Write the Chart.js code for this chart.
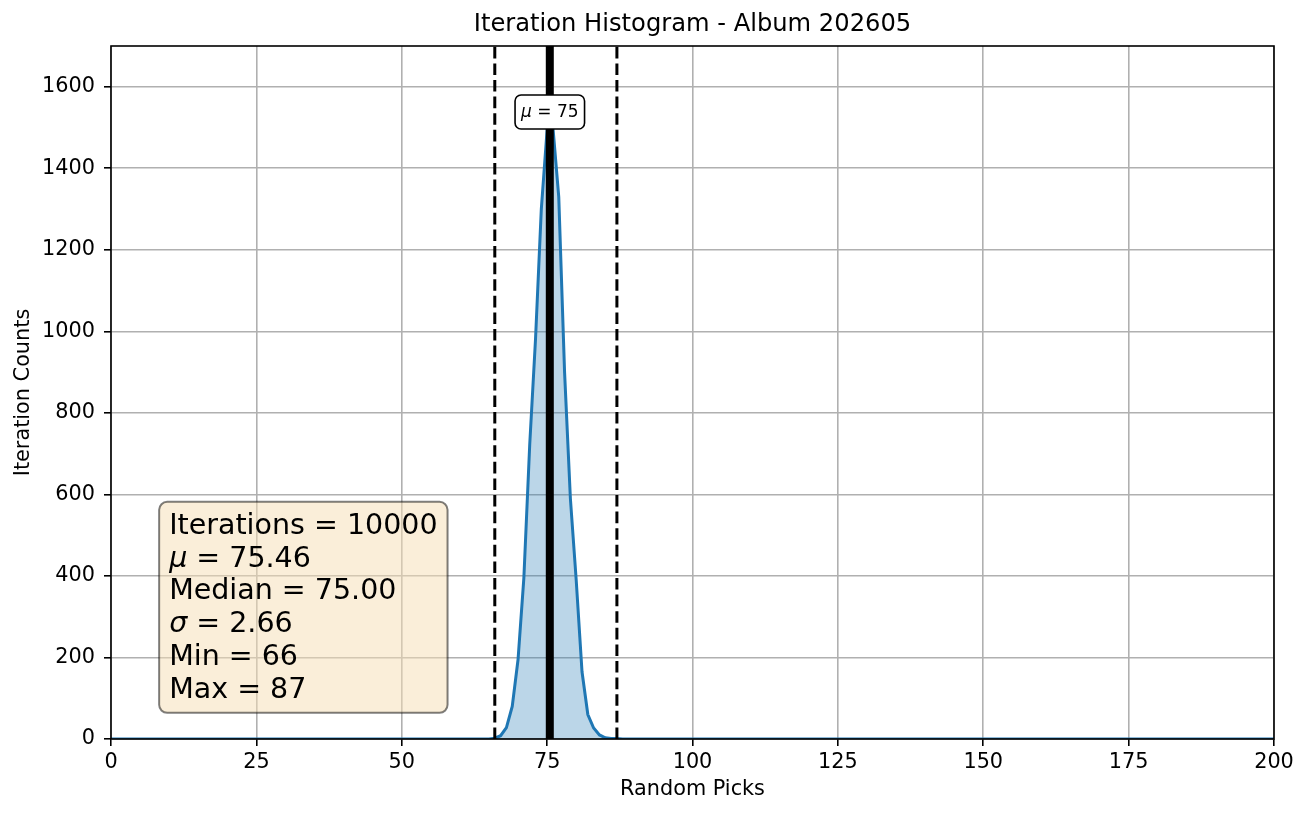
<!DOCTYPE html>
<html>
<head>
<meta charset="utf-8">
<script src="https://cdn.jsdelivr.net/npm/chart.js@4.4.1/dist/chart.umd.min.js"></script>
<style>
  html, body { margin: 0; padding: 0; background: #fff; }
  canvas { display: block; }
</style>
</head>
<body>
<canvas id="chart" width="1308" height="817"></canvas>
<script>
// values
const picks = [0, 65, 66, 67, 68, 69, 70, 71, 72, 73, 74, 75, 76, 77, 78, 79, 80, 81, 82, 83, 84, 85, 86, 87, 88, 200];
const counts = [0, 0, 2, 8, 28, 80, 195, 395, 720, 980, 1300, 1495, 1500, 1330, 900, 590, 390, 165, 60, 27, 10, 3, 1, 1, 0, 0];
const xTicks = [0, 25, 50, 75, 100, 125, 150, 175, 200];
const yTicks = [0, 200, 400, 600, 800, 1000, 1200, 1400, 1600];

const chartTitle = "Iteration Histogram - Album 202605";
const iterations = 10000;
const meanPick = 75.46;
const medianPick = 75.0;
const sigma = 2.66;
const minPick = 66;
const maxPick = 87;
const muLabelY = 1538;

const FONT = "'DejaVu Sans', sans-serif";
Chart.defaults.font.family = FONT;
Chart.defaults.color = "#000";

// draw a line made of [text, italic] runs
function drawRuns(ctx, runs, x, y, size) {
  runs.forEach(([text, italic]) => {
    ctx.font = (italic ? "italic " : "") + size + "px " + FONT;
    ctx.fillText(text, x, y);
    x += ctx.measureText(text).width;
  });
  return x;
}

function runsWidth(ctx, runs, size) {
  let w = 0;
  runs.forEach(([text, italic]) => {
    ctx.font = (italic ? "italic " : "") + size + "px " + FONT;
    w += ctx.measureText(text).width;
  });
  return w;
}

function roundRect(ctx, x, y, w, h, r) {
  ctx.beginPath();
  ctx.moveTo(x + r, y);
  ctx.arcTo(x + w, y, x + w, y + h, r);
  ctx.arcTo(x + w, y + h, x, y + h, r);
  ctx.arcTo(x, y + h, x, y, r);
  ctx.arcTo(x, y, x + w, y, r);
  ctx.closePath();
}

const annotations = {
  id: "annotations",
  afterDatasetsDraw(chart) {
    const { ctx, chartArea: a, scales: { x, y } } = chart;
    ctx.save();

    // axes frame
    ctx.strokeStyle = "#000";
    ctx.lineWidth = 1.6;
    ctx.strokeRect(a.left, a.top, a.right - a.left, a.bottom - a.top);

    // title, centred over the axes like matplotlib
    ctx.fillStyle = "#000";
    ctx.font = "24.2px " + FONT;
    ctx.textAlign = "center";
    ctx.textBaseline = "middle";
    ctx.fillText(chartTitle, (a.left + a.right) / 2, 25);
    ctx.textAlign = "left";

    // mu label on the mean line
    const muRuns = [["\u03bc", true], [" = " + Math.round(medianPick), false]];
    const muSize = 17;
    const mw = runsWidth(ctx, muRuns, muSize);
    const mx = x.getPixelForValue(meanPick);
    const my = y.getPixelForValue(muLabelY);
    roundRect(ctx, mx - mw / 2 - 6, my - 17, mw + 12, 34, 6);
    ctx.fillStyle = "#fff";
    ctx.fill();
    ctx.lineWidth = 1.6;
    ctx.strokeStyle = "#000";
    ctx.stroke();
    ctx.fillStyle = "#000";
    ctx.textBaseline = "middle";
    drawRuns(ctx, muRuns, mx - mw / 2, my + 1, muSize);

    // stats box
    const lines = [
      [["Iterations", false], [" = " + iterations, false]],
      [["\u03bc", true], [" = " + meanPick.toFixed(2), false]],
      [["Median", false], [" = " + medianPick.toFixed(2), false]],
      [["\u03c3", true], [" = " + sigma.toFixed(2), false]],
      [["Min", false], [" = " + minPick, false]],
      [["Max", false], [" = " + maxPick, false]],
    ];
    const size = 28.5;
    const step = 32.8;
    const tx = a.left + 0.05 * (a.right - a.left);
    const lastBase = a.bottom - 0.05 * (a.bottom - a.top) - 6.5;
    const firstBase = lastBase - step * (lines.length - 1);
    let maxW = 0;
    lines.forEach(l => { maxW = Math.max(maxW, runsWidth(ctx, l, size)); });
    roundRect(ctx, tx - 10, firstBase - 32, maxW + 20, lastBase - firstBase + 47, 8);
    ctx.fillStyle = "rgba(245, 222, 179, 0.5)";
    ctx.fill();
    ctx.strokeStyle = "rgba(0, 0, 0, 0.5)";
    ctx.lineWidth = 2;
    ctx.stroke();
    ctx.fillStyle = "#000";
    ctx.textBaseline = "alphabetic";
    lines.forEach((l, i) => drawRuns(ctx, l, tx, firstBase + i * step, size));

    ctx.restore();
  }
};

const gridOpts = { color: "#b0b0b0", lineWidth: 1.6, tickColor: "#000", tickLength: 7, tickWidth: 1.6 };

new Chart(document.getElementById("chart").getContext("2d"), {
  type: "line",
  data: {
    datasets: [
      {
        label: "mean",
        data: [{ x: meanPick, y: 0 }, { x: meanPick, y: 1700 }],
        borderColor: "#000",
        borderWidth: 8,
        pointRadius: 0,
        order: 0,
      },
      {
        label: "min",
        data: [{ x: minPick, y: 0 }, { x: minPick, y: 1700 }],
        borderColor: "#000",
        borderWidth: 3,
        borderDash: [11.6, 5],
        pointRadius: 0,
        order: 1,
      },
      {
        label: "max",
        data: [{ x: maxPick, y: 0 }, { x: maxPick, y: 1700 }],
        borderColor: "#000",
        borderWidth: 3,
        borderDash: [11.6, 5],
        pointRadius: 0,
        order: 1,
      },
      {
        label: "counts",
        data: picks.map((p, i) => ({ x: p, y: counts[i] })),
        borderColor: "#1f77b4",
        backgroundColor: "rgba(31, 119, 180, 0.3)",
        borderWidth: 3,
        fill: "origin",
        tension: 0,
        pointRadius: 0,
        order: 2,
      },
    ],
  },
  options: {
    responsive: false,
    animation: false,
    devicePixelRatio: 1,
    layout: { padding: { left: 0, right: 34, top: 46, bottom: 0 } },
    plugins: {
      legend: { display: false },
      tooltip: { enabled: false },
      title: { display: false },
    },
    scales: {
      x: {
        type: "linear",
        min: 0,
        max: 200,
        afterBuildTicks: s => { s.ticks = xTicks.map(v => ({ value: v })); },
        afterFit: s => { s.height = 78; },
        ticks: { color: "#000", font: { size: 20.8 }, padding: 4, maxRotation: 0, autoSkip: false, callback: v => String(v) },
        grid: gridOpts,
        border: { display: false },
        title: { display: true, text: "Random Picks", color: "#000", font: { size: 20.8 }, padding: { top: 0, bottom: 15 } },
      },
      y: {
        type: "linear",
        min: 0,
        max: 1700,
        afterBuildTicks: s => { s.ticks = yTicks.map(v => ({ value: v })); },
        afterFit: s => { s.width = 111; },
        ticks: { color: "#000", font: { size: 20.8 }, padding: 9, autoSkip: false, callback: v => String(v) },
        grid: gridOpts,
        border: { display: false },
        title: { display: true, text: "Iteration Counts", color: "#000", font: { size: 20.8 }, padding: { top: 11, bottom: 0 } },
      },
    },
  },
  plugins: [annotations],
});
</script>
</body>
</html>
